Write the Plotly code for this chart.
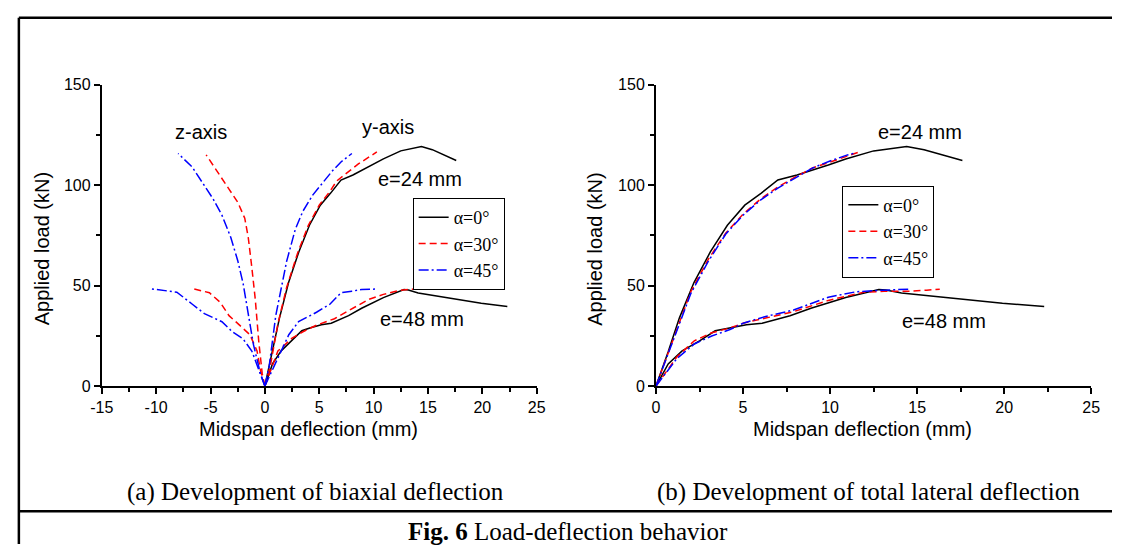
import plotly.graph_objects as go

W, H = 1121, 553

# ---------------- data ----------------
alphas = ["α=0°", "α=30°", "α=45°"]
colors = ["#000000", "#ff0000", "#0000ff"]
dashes = ["solid", "7px,4px", "10px,3px,2px,3px"]

# (a) biaxial deflection, e = 24 mm
a0_e24_y_x = [0, 0.7, 1.34, 2.18, 3.12, 4.1, 5.1, 6.05, 7.0, 8.1, 9.9, 10.9, 12.5, 14.4, 15.4, 17.6]
a0_e24_y_p = [0, 17, 33.8, 51.5, 66.7, 80, 90, 96, 102.5, 105, 110, 113, 117, 119.2, 117.6, 112.2]
a30_e24_y_x = [0, 0.5, 1.2, 2.0, 3.0, 4.0, 5.0, 6.0, 6.6, 7.5, 8.6, 10.3]
a30_e24_y_p = [0, 10, 31, 49, 66, 80, 90, 97, 102, 106, 110.5, 116.5]
a30_e24_z_x = [0, -0.24, -0.56, -0.88, -1.2, -1.53, -1.85, -2.5, -3.3, -4.27, -5.4]
a30_e24_z_p = [0, 6, 22, 43, 59, 74, 83.5, 91.5, 98, 106, 115]
a45_e24_y_x = [0, 0.4, 1.0, 2.0, 2.8, 3.5, 4.4, 5.3, 6.2, 7.0, 8.0]
a45_e24_y_p = [0, 10, 35, 62, 78, 87, 95, 101, 107, 111.5, 115.7]
a45_e24_z_x = [0, -0.4, -1.05, -1.53, -2.0, -2.5, -3.14, -3.95, -4.75, -5.72, -6.69, -7.98]
a45_e24_z_p = [0, 6, 20.6, 36.7, 51, 62.5, 74, 85, 93, 101, 109, 115.7]

# (a) biaxial deflection, e = 48 mm
a0_e48_y_x = [0, 0.7, 1.5, 2.5, 3.4, 4.2, 5.2, 6.1, 7.7, 8.9, 10.9, 12.8, 13.2, 14.1, 16.0, 17.9, 19.9, 22.3]
a0_e48_y_p = [0, 11, 17.5, 22.5, 27.5, 29, 30.5, 31.2, 35, 38.7, 44, 48, 47.8, 46.3, 44.6, 43.2, 41.2, 39.6]
a30_e48_y_x = [0, 1.2, 2.5, 3.5, 4.75, 6.4, 7.7, 9.6, 10.9, 12.5, 13.8, 14.9]
a30_e48_y_p = [0, 17.4, 23.8, 27, 30.3, 33.5, 37.5, 43.2, 45.6, 47.7, 48.3, 48.8]
a30_e48_z_x = [0, -0.4, -0.72, -1.37, -2.33, -3.3, -4.1, -5.1, -6.8]
a30_e48_z_p = [0, 7.7, 17.4, 25.5, 30.3, 35, 41.6, 46.4, 48.7]
a45_e48_y_x = [0, 1.2, 2.2, 3.1, 4.75, 6.0, 7.0, 8.0, 8.9, 10.4]
a45_e48_y_p = [0, 14, 25.5, 32, 36.7, 40.8, 46.4, 47.2, 48, 48.3]
a45_e48_z_x = [0, -0.56, -1.2, -2.0, -3.0, -3.95, -5.56, -6.7, -8.1, -10.4]
a45_e48_z_p = [0, 7.7, 17.4, 23.4, 27, 32, 36, 40.8, 46.7, 48.3]

# (b) total lateral deflection
b0_e24_x = a0_e24_y_x
b0_e24_p = a0_e24_y_p
b30_e24_x = [0, 1, 2, 3, 4, 5, 6, 7, 8, 9, 10, 11, 11.7]
b30_e24_p = [0, 24, 47, 63, 76, 85.5, 93, 99, 104, 108.5, 111.5, 114.5, 116.5]
b45_e24_x = [0, 1, 2, 3, 4, 5, 6, 7, 8, 9, 10, 11, 11.5]
b45_e24_p = [0, 23, 46, 62, 75.5, 85, 92.5, 98.5, 103.5, 108.5, 112, 115, 116]
b0_e48_x = a0_e48_y_x
b0_e48_p = a0_e48_y_p
b30_e48_x = [0, 1.2, 2.2, 3.2, 4.25, 5.05, 6.3, 7.9, 9.9, 11.9, 13.1, 14.35, 15.55, 16.3]
b30_e48_p = [0, 14.5, 22.5, 26.5, 28.9, 31.4, 33.8, 37, 42.6, 46.6, 47.1, 47.1, 47.7, 48.2]
b45_e48_x = [0, 1.2, 2.2, 3.2, 4.25, 5.05, 6.3, 7.9, 9.9, 11.5, 13.1, 14.55]
b45_e48_p = [0, 13.7, 20.9, 24.9, 28.1, 31.4, 34.6, 37.8, 44.2, 46.9, 47.7, 48.2]

left_curves = [
    [(a0_e24_y_x, a0_e24_y_p), (a0_e48_y_x, a0_e48_y_p)],
    [(a30_e24_y_x, a30_e24_y_p), (a30_e24_z_x, a30_e24_z_p), (a30_e48_y_x, a30_e48_y_p), (a30_e48_z_x, a30_e48_z_p)],
    [(a45_e24_y_x, a45_e24_y_p), (a45_e24_z_x, a45_e24_z_p), (a45_e48_y_x, a45_e48_y_p), (a45_e48_z_x, a45_e48_z_p)],
]
right_curves = [
    [(b0_e24_x, b0_e24_p), (b0_e48_x, b0_e48_p)],
    [(b30_e24_x, b30_e24_p), (b30_e48_x, b30_e48_p)],
    [(b45_e24_x, b45_e24_p), (b45_e48_x, b45_e48_p)],
]

x_ticks_a = [-15, -10, -5, 0, 5, 10, 15, 20, 25]
x_ticks_b = [0, 5, 10, 15, 20, 25]
y_ticks = [0, 50, 100, 150]

SANS = "Liberation Sans, Arial, sans-serif"
SERIF = "Liberation Serif, Times New Roman, serif"

fig = go.Figure()
for i, (name, col, dsh) in enumerate(zip(alphas, colors, dashes)):
    for j, (xs, ys) in enumerate(left_curves[i]):
        fig.add_trace(go.Scatter(x=xs, y=ys, mode="lines", name=name,
                                 line=dict(color=col, width=1.5, dash=dsh),
                                 xaxis="x", yaxis="y", legend="legend",
                                 showlegend=(j == 0), legendgroup="L" + name))
    for j, (xs, ys) in enumerate(right_curves[i]):
        fig.add_trace(go.Scatter(x=xs, y=ys, mode="lines", name=name,
                                 line=dict(color=col, width=1.5, dash=dsh),
                                 xaxis="x2", yaxis="y2", legend="legend2",
                                 showlegend=(j == 0), legendgroup="R" + name))

def px(xp):
    return xp / W

def py(yp):
    return 1 - yp / H

ydom = [py(390), py(79)]
common = dict(showline=True, linecolor="black", linewidth=2, ticks="outside",
              ticklen=6, tickwidth=1.5, tickcolor="black", showgrid=False,
              zeroline=False, tickfont=dict(family=SANS, size=16, color="black"))
xminor = dict(ticks="outside", ticklen=4, tickwidth=1.5, tickcolor="black", dtick=2.5, showgrid=False)
yminor = dict(ticks="outside", ticklen=4, tickwidth=1.5, tickcolor="black", dtick=25, showgrid=False)

fig.update_layout(
    width=W, height=H,
    margin=dict(l=0, r=0, t=0, b=0),
    paper_bgcolor="white", plot_bgcolor="white",
    xaxis=dict(domain=[px(91.5), px(534.7)], range=[-15, 25], tickvals=x_ticks_a,
               ticktext=[str(v) for v in x_ticks_a],
               anchor="y", minor=xminor, **common),
    yaxis=dict(domain=ydom, range=[0, 150], tickvals=y_ticks, ticktext=[str(v) for v in y_ticks],
               anchor="x", minor=yminor, **common),
    xaxis2=dict(domain=[px(656.3), px(1099.8)], range=[0, 25], tickvals=x_ticks_b,
                ticktext=[str(v) for v in x_ticks_b],
                anchor="y2", minor=xminor, **common),
    yaxis2=dict(domain=ydom, range=[0, 150], tickvals=y_ticks, ticktext=[str(v) for v in y_ticks],
                anchor="x2", minor=yminor, **common),
    legend=dict(x=px(408.3), y=py(196), xanchor="left", yanchor="top",
                bordercolor="black", borderwidth=1, bgcolor="white",
                font=dict(family=SERIF, size=18, color="black"), tracegroupgap=0),
    legend2=dict(x=px(846.2), y=py(183.3), xanchor="left", yanchor="top",
                 bordercolor="black", borderwidth=1, bgcolor="white",
                 font=dict(family=SERIF, size=18, color="black"), tracegroupgap=0),
    showlegend=True,
)

ann = []
def text_ann(t, x, y, xref, yref, size=20, family=SANS, angle=0):
    ann.append(dict(text=t, x=x, y=y, xref=xref, yref=yref, showarrow=False,
                    xanchor="center", yanchor="middle", textangle=angle,
                    font=dict(family=family, size=size, color="black")))

# curve labels (data coordinates)
text_ann("z-axis", -5.87, 126.4, "x", "y")
text_ann("y-axis", 11.36, 128.8, "x", "y")
text_ann("e=24 mm", 14.28, 103.2, "x", "y")
text_ann("e=48 mm", 14.47, 33.3, "x", "y")
text_ann("e=24 mm", 15.18, 126.4, "x2", "y2")
text_ann("e=48 mm", 16.53, 32.3, "x2", "y2")

# axis titles
text_ann("Midspan deflection (mm)", px(302.5), py(434), "paper", "paper")
text_ann("Midspan deflection (mm)", px(866.7), py(434), "paper", "paper")
text_ann("Applied load (kN)", px(30), py(248.5), "paper", "paper", angle=-90)
text_ann("Applied load (kN)", px(594), py(248.5), "paper", "paper", angle=-90)

# captions
text_ann("(a) Development of biaxial deflection", px(309), py(499.6), "paper", "paper", size=25, family=SERIF)
text_ann("(b) Development of total lateral deflection", px(873.3), py(499.6), "paper", "paper", size=25, family=SERIF)
text_ann("<b>Fig. 6</b> Load-deflection behavior", px(567), py(539.6), "paper", "paper", size=25, family=SERIF)

fig.update_layout(annotations=ann)

# frame lines
frame = [
    dict(type="line", xref="paper", yref="paper", x0=px(7), x1=1, y0=py(10), y1=py(10)),
    dict(type="line", xref="paper", yref="paper", x0=px(7), x1=px(7), y0=py(10), y1=0),
    dict(type="line", xref="paper", yref="paper", x0=px(7), x1=1, y0=py(519.3), y1=py(519.3)),
]
for s in frame:
    s["line"] = dict(color="black", width=2.5)
fig.update_layout(shapes=frame)

fig.write_html("out.html", config={"displayModeBar": False})
